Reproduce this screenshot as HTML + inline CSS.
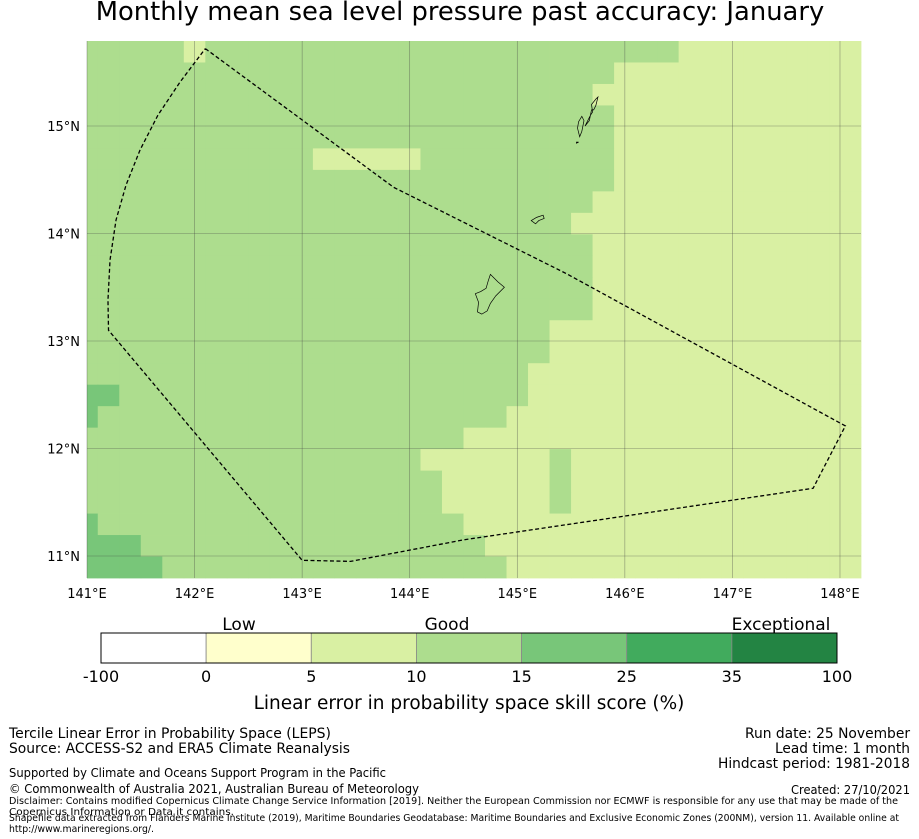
<!DOCTYPE html>
<html><head><meta charset="utf-8"><style>
body{margin:0;background:#fff}
svg{display:block;font-family:"DejaVu Sans","Liberation Sans",sans-serif}
</style></head><body>
<svg id="chart" width="919" height="839" viewBox="0 0 919 839">
<text x="460" y="20" font-size="25.8" text-anchor="middle">Monthly mean sea level pressure past accuracy: January</text>
<g id="map"></g>
<g id="cbar"></g>
<g font-size="14">
<text x="9" y="738" textLength="322" lengthAdjust="spacingAndGlyphs">Tercile Linear Error in Probability Space (LEPS)</text>
<text x="9" y="753" textLength="341" lengthAdjust="spacingAndGlyphs">Source: ACCESS-S2 and ERA5 Climate Reanalysis</text>
<text x="9" y="777" font-size="12.5" textLength="377" lengthAdjust="spacingAndGlyphs">Supported by Climate and Oceans Support Program in the Pacific</text>
<text x="9" y="793" font-size="12.5" textLength="410" lengthAdjust="spacingAndGlyphs">© Commonwealth of Australia 2021, Australian Bureau of Meteorology</text>
<text x="9" y="804" font-size="9.5" textLength="889" lengthAdjust="spacingAndGlyphs">Disclaimer: Contains modified Copernicus Climate Change Service Information [2019]. Neither the European Commission nor ECMWF is responsible for any use that may be made of the</text>
<text x="9" y="815" font-size="9.5" textLength="225" lengthAdjust="spacingAndGlyphs">Copernicus Information or Data it contains.</text>
<text x="9" y="821" font-size="9.5" textLength="890" lengthAdjust="spacingAndGlyphs">Shapefile data extracted from Flanders Marine Institute (2019), Maritime Boundaries Geodatabase: Maritime Boundaries and Exclusive Economic Zones (200NM), version 11. Available online at</text>
<text x="9" y="832" font-size="9.5" textLength="145" lengthAdjust="spacingAndGlyphs">http://www.marineregions.org/.</text>
<text x="910" y="738" text-anchor="end" textLength="165" lengthAdjust="spacingAndGlyphs">Run date: 25 November</text>
<text x="910" y="753" text-anchor="end" textLength="135" lengthAdjust="spacingAndGlyphs">Lead time: 1 month</text>
<text x="910" y="768" text-anchor="end" textLength="192" lengthAdjust="spacingAndGlyphs">Hindcast period: 1981-2018</text>
<text x="910" y="794" font-size="12.5" text-anchor="end" textLength="119" lengthAdjust="spacingAndGlyphs">Created: 27/10/2021</text>
</g>
</svg>
<script>
// grid of skill classes: a=5-10, b=10-15, c=15-25 ; rows top(north) to bottom, 37 columns
const R=(n,ch)=>ch.repeat(n);
const gridRows=[
R(5,'b')+'a'+R(22,'b')+R(9,'a'),
R(25,'b')+R(12,'a'),
R(24,'b')+R(13,'a'),
R(25,'b')+R(12,'a'),
R(25,'b')+R(12,'a'),
R(11,'b')+R(5,'a')+R(9,'b')+R(12,'a'),
R(25,'b')+R(12,'a'),
R(24,'b')+R(13,'a'),
R(23,'b')+R(14,'a'),
R(24,'b')+R(13,'a'),
R(24,'b')+R(13,'a'),
R(24,'b')+R(13,'a'),
R(24,'b')+R(13,'a'),
R(22,'b')+R(15,'a'),
R(22,'b')+R(15,'a'),
R(21,'b')+R(16,'a'),
R(2,'c')+R(19,'b')+R(16,'a'),
'c'+R(19,'b')+R(17,'a'),
R(18,'b')+R(19,'a'),
R(16,'b')+R(6,'a')+'b'+R(14,'a'),
R(17,'b')+R(5,'a')+'b'+R(14,'a'),
R(17,'b')+R(5,'a')+'b'+R(14,'a'),
'c'+R(17,'b')+R(19,'a'),
R(3,'c')+R(16,'b')+R(18,'a'),
R(4,'c')+R(16,'b')+R(17,'a')
];
const classColors={a:'#d9f0a3',b:'#addd8e',c:'#78c679'};
const lonTicks=[141,142,143,144,145,146,147,148];
const latTicks=[11,12,13,14,15];
const cbBounds=['-100','0','5','10','15','25','35','100'];
const cbColors=['#ffffff','#ffffcc','#d9f0a3','#addd8e','#78c679','#41ab5d','#238443'];
const eez=[[142.1,15.72],[143.85,14.43],[144.95,13.88],[145.45,13.63],[148.05,12.21],[147.75,11.63],[144.5,11.15],[143.45,10.95],[143.0,10.96],[141.2,13.1],[141.195,13.381],[141.214,13.753],[141.27,14.126],[141.363,14.451],[141.493,14.777],[141.66,15.102],[141.865,15.409],[142.1,15.72]];
const islands=[
[[144.75,13.62],[144.82,13.55],[144.88,13.5],[144.8,13.42],[144.75,13.35],[144.72,13.28],[144.67,13.25],[144.63,13.27],[144.64,13.36],[144.61,13.44],[144.66,13.46],[144.71,13.49],[144.73,13.56],[144.75,13.62]],
[[145.13,14.12],[145.18,14.15],[145.24,14.17],[145.25,14.14],[145.2,14.12],[145.17,14.09],[145.13,14.12]],
[[145.63,15.0],[145.66,15.06],[145.68,15.1],[145.7,15.13],[145.69,15.2],[145.73,15.25],[145.75,15.27],[145.73,15.19],[145.71,15.15],[145.69,15.15],[145.67,15.05],[145.63,15.0]],
[[145.58,14.9],[145.6,14.95],[145.62,15.05],[145.6,15.09],[145.57,15.04],[145.56,14.98],[145.58,14.9]],
[[145.55,14.84],[145.57,14.85],[145.55,14.85]]
];
const NS='http://www.w3.org/2000/svg';
const X0=87,X1=861,Y0=41,Y1=578,PX=107.57,PY=107.5;
const xs=lon=>X0+(lon-141)*PX;
const ys=lat=>126+(15-lat)*PY;
function mk(tag,attrs,parent){const e=document.createElementNS(NS,tag);for(const k in attrs)e.setAttribute(k,attrs[k]);parent.appendChild(e);return e;}
const map=document.getElementById('map');
const cw=PX/5, rh=(Y1-Y0)/gridRows.length;
gridRows.forEach((row,r)=>{
  for(let c=0;c<row.length;c++){
    let x=X0+cw*(c-0.5), x2=x+cw; if(x<X0)x=X0; if(x2>X1)x2=X1;
    const rc=mk('rect',{x:x,y:Y0+r*rh,width:x2-x+0.4,height:rh+0.4,fill:classColors[row[c]]},map);
    
    
  }
});
lonTicks.forEach(l=>{
  const x=xs(l);
  const g=mk('line',{x1:x,y1:Y0,x2:x,y2:Y1,stroke:'#444','stroke-width':0.6,'stroke-opacity':0.55},map);
  
  
  const t=mk('text',{x:x,y:598,'font-size':13,'text-anchor':'middle'},map);t.textContent=l+'°E';
  
  
});
latTicks.forEach(l=>{
  const y=ys(l);
  const g=mk('line',{x1:X0,y1:y,x2:X1,y2:y,stroke:'#444','stroke-width':0.6,'stroke-opacity':0.55},map);
  
  
  const t=mk('text',{x:80,y:y+5,'font-size':13,'text-anchor':'end'},map);t.textContent=l+'°N';
  
  
});
const pe=mk('polyline',{points:eez.map(p=>xs(p[0])+','+ys(p[1])).join(' '),fill:'none',stroke:'#000','stroke-width':1.3,'stroke-dasharray':'4,2.5'},map);


islands.forEach(isl=>{
  const p=mk('polygon',{points:isl.map(q=>xs(q[0])+','+ys(q[1])).join(' '),fill:'none',stroke:'#000','stroke-width':0.7},map);
  
  
});
const cb=document.getElementById('cbar');
const CX0=101,CX1=837,CY=633,CH=30,sw=(CX1-CX0)/cbColors.length;
cbColors.forEach((col,i)=>{
  const r=mk('rect',{x:CX0+i*sw,y:CY,width:sw,height:CH,fill:col,stroke:'#888','stroke-width':0.8},cb);
  
  
});
mk('rect',{x:CX0,y:CY,width:CX1-CX0,height:CH,fill:'none',stroke:'#000','stroke-width':1},cb);
cbBounds.forEach((b,i)=>{
  const t=mk('text',{x:CX0+i*sw,y:682,'font-size':16,'text-anchor':'middle'},cb);t.textContent=b;
  
  
});
[['Low',239],['Good',447],['Exceptional',781]].forEach(([s,x])=>{
  const t=mk('text',{x:x,y:630,'font-size':17,'text-anchor':'middle'},cb);t.textContent=s;
  
  
});
const at=mk('text',{x:469,y:709,'font-size':18.5,'text-anchor':'middle'},cb);
at.textContent='Linear error in probability space skill score (%)';


</script>
</body></html>
